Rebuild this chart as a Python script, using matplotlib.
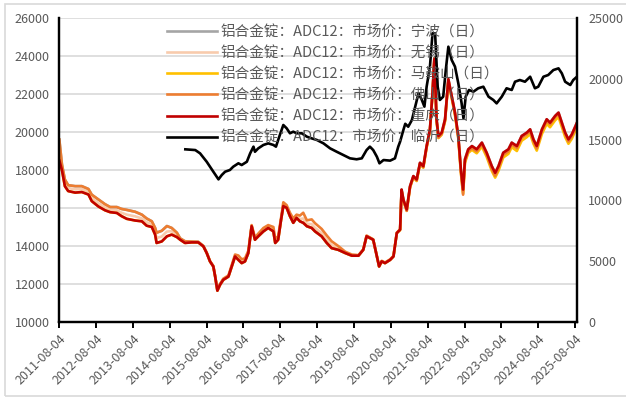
import matplotlib
matplotlib.use("Agg")
from matplotlib import pyplot as plt
from matplotlib.patches import Rectangle

plt.rcParams['font.family'] = ['Noto Sans CJK SC', 'DejaVu Sans']

# dates as decimal years
red_t = [2011.59, 2011.66, 2011.74, 2011.83, 2012.02, 2012.20, 2012.38, 2012.47, 2012.65, 2012.83,
         2012.97, 2013.15, 2013.28, 2013.42, 2013.65, 2013.83, 2013.96, 2014.10, 2014.19, 2014.23,
         2014.37, 2014.51, 2014.64, 2014.78, 2014.87, 2015.00, 2015.18, 2015.36, 2015.50, 2015.59,
         2015.68, 2015.77, 2015.82, 2015.88, 2015.95, 2016.04, 2016.18, 2016.27, 2016.36, 2016.45,
         2016.54, 2016.63, 2016.72, 2016.81, 2016.90, 2016.99, 2017.13, 2017.26, 2017.40, 2017.45,
         2017.53, 2017.61, 2017.67, 2017.76, 2017.85, 2017.94, 2018.03, 2018.12, 2018.21, 2018.31,
         2018.44, 2018.53, 2018.71, 2018.85, 2018.98, 2019.16, 2019.35, 2019.53, 2019.71, 2019.84,
         2019.93, 2020.02, 2020.11, 2020.21, 2020.27, 2020.34, 2020.43, 2020.57, 2020.66, 2020.75,
         2020.84, 2020.88, 2020.93, 2021.02, 2021.11, 2021.20, 2021.29, 2021.38, 2021.47, 2021.56,
         2021.65, 2021.72, 2021.77, 2021.83, 2021.88, 2021.97, 2022.06, 2022.15, 2022.24, 2022.33,
         2022.42, 2022.49, 2022.55, 2022.60, 2022.69, 2022.79, 2022.92, 2023.06, 2023.19, 2023.33,
         2023.42, 2023.51, 2023.64, 2023.78, 2023.87, 2024.01, 2024.14, 2024.28, 2024.37, 2024.46,
         2024.55, 2024.69, 2024.82, 2024.91, 2025.05, 2025.14, 2025.23, 2025.32, 2025.41, 2025.50,
         2025.64]

chongqing = [18500, 18000, 17150, 16890, 16810, 16840, 16710, 16360, 16080, 15880,
             15780, 15740, 15570, 15430, 15340, 15300, 15070, 15000, 14600, 14160,
             14240, 14510, 14600, 14470, 14330, 14160, 14190, 14190, 13980, 13630,
             13190, 12920, 12390, 11650, 11950, 12220, 12390, 12920, 13450, 13270,
             13100, 13190, 13630, 15040, 14330, 14510, 14770, 14950, 14770, 14160,
             14330, 15390, 16100, 16010, 15570, 15220, 15480, 15300, 15220, 15040,
             14950, 14770, 14510, 14160, 13890, 13800, 13630, 13490, 13490, 13800,
             14510, 14420, 14330, 13450, 12920, 13190, 13100, 13270, 13450, 14680,
             14860, 16970, 16440, 15920, 17150, 17680, 17500, 18380, 18200, 19260,
             20140, 22080, 23840, 20670, 19790, 19970, 20670, 22780, 21900, 21020,
             19790, 18030, 16970, 18560, 19090, 19260, 19090, 19440, 18910, 18200,
             17850, 18200, 18910, 19090, 19440, 19260, 19790, 19970, 20140, 19610,
             19260, 20140, 20670, 20490, 20850, 21020, 20490, 19970, 19610, 19870,
             20490]

foshan = [19600, 18300, 17500, 17200, 17150, 17150, 17000, 16700, 16450, 16200,
          16050, 16050, 15950, 15900, 15800, 15650, 15450, 15300, 14950, 14700,
          14800, 15050, 14950, 14700, 14400, 14250, 14230, 14220, 14000, 13650,
          13200, 12950, 12420, 11700, 12000, 12280, 12450, 13000, 13550, 13500,
          13300, 13350, 13750, 15100, 14450, 14650, 14950, 15100, 15000, 14400,
          14500, 15500, 16300, 16150, 15750, 15450, 15650, 15600, 15750, 15350,
          15400, 15200, 14900, 14550, 14250, 14000, 13700, 13550, 13520, 13820,
          14550, 14450, 14350, 13480, 12950, 13220, 13130, 13300, 13480, 14700,
          14880, 16950, 16400, 15850, 17100, 17650, 17450, 18350, 18150, 19200,
          20100, 22050, 23900, 20600, 19700, 19900, 20600, 22750, 21850, 20950,
          19700, 17900, 16700, 18450, 18980, 19150, 18980, 19350, 18800, 18050,
          17700, 18080, 18800, 18980, 19350, 19150, 19700, 19880, 20050, 19500,
          19130, 20050, 20580, 20400, 20780, 20950, 20400, 19880, 19500, 19780,
          20400]

wuxi = [19300, 18150, 17300, 17050, 16980, 17000, 16850, 16520, 16250, 16030,
        15900, 15880, 15750, 15650, 15560, 15450, 15250, 15150, 14780, 14420,
        14500, 14760, 14780, 14580, 14370, 14200, 14200, 14200, 13990, 13640,
        13190, 12920, 12390, 11650, 11950, 12220, 12390, 12920, 13450, 13270,
        13150, 13240, 13680, 15060, 14380, 14570, 14850, 15020, 14850, 14250,
        14400, 15430, 16180, 16060, 15640, 15300, 15540, 15420, 15450, 15170,
        15150, 14950, 14680, 14330, 14050, 13880, 13660, 13500, 13490, 13800,
        14510, 14420, 14330, 13450, 12920, 13190, 13100, 13270, 13450, 14680,
        14860, 16900, 16350, 15850, 17100, 17650, 17480, 18350, 18180, 19230,
        20120, 22060, 23850, 20640, 19760, 19950, 20650, 22760, 21880, 20990,
        19760, 17980, 16900, 18520, 19060, 19230, 19060, 19410, 18880, 18170,
        17820, 18170, 18880, 19060, 19410, 19230, 19760, 19940, 20110, 19580,
        19230, 20110, 20640, 20460, 20820, 20990, 20460, 19940, 19580, 19840,
        20460]

maanshan = [18500, 18000, 17150, 16890, 16810, 16840, 16710, 16360, 16080, 15880,
            15780, 15740, 15570, 15430, 15340, 15300, 15070, 15000, 14600, 14160,
            14240, 14510, 14600, 14470, 14330, 14160, 14190, 14190, 13980, 13630,
            13190, 12920, 12390, 11650, 11950, 12220, 12390, 12920, 13450, 13270,
            13100, 13190, 13630, 15040, 14330, 14510, 14770, 14950, 14770, 14160,
            14330, 15390, 16100, 16010, 15570, 15220, 15480, 15300, 15220, 15040,
            14950, 14770, 14510, 14160, 13890, 13800, 13630, 13490, 13490, 13800,
            14510, 14420, 14330, 13450, 12920, 13190, 13100, 13270, 13450, 14680,
            14830, 16900, 16380, 15860, 17080, 17600, 17420, 18300, 18120, 19180,
            20060, 22000, 23760, 20580, 19680, 19860, 20560, 22660, 21780, 20890,
            19650, 17850, 16750, 18380, 18900, 19060, 18880, 19230, 18690, 17950,
            17600, 17950, 18660, 18850, 19200, 19000, 19540, 19730, 19900, 19380,
            19020, 19900, 20430, 20250, 20620, 20790, 20260, 19740, 19380, 19640,
            20260]

ningbo = [19600, 18300, 17500, 17200, 17150, 17150, 17000, 16700, 16450, 16200,
          16050, 16050, 15950, 15900, 15800, 15650, 15450, 15300, 14950, 14700,
          14800, 15050, 14950, 14700, 14400, 14250, 14230, 14220, 14000, 13650,
          13190, 12920, 12390, 11650, 11950, 12220, 12390, 12920, 13450, 13270,
          13100, 13190, 13630, 15040, 14330, 14510, 14770, 14950, 14770, 14160,
          14330, 15390, 16100, 16010, 15570, 15220, 15480, 15300, 15220, 15040,
          14950, 14770, 14510, 14160, 13890, 13800, 13630, 13490, 13490, 13800,
          14510, 14420, 14330, 13450, 12920, 13190, 13100, 13270, 13450, 14680,
          14860, 16970, 16440, 15920, 17150, 17680, 17500, 18380, 18200, 19260,
          20140, 22080, 23840, 20670, 19790, 19970, 20670, 22780, 21900, 21020,
          19790, 18030, 16970, 18560, 19090, 19260, 19090, 19440, 18910, 18200,
          17850, 18200, 18910, 19090, 19440, 19260, 19790, 19970, 20140, 19610,
          19260, 20140, 20670, 20490, 20850, 21020, 20490, 19970, 19610, 19870,
          20490]

linyi_t = [2015.01, 2015.28, 2015.41, 2015.59, 2015.77, 2015.91, 2016.00, 2016.09, 2016.22, 2016.31,
           2016.45, 2016.54, 2016.68, 2016.77, 2016.86, 2016.90, 2016.99, 2017.13, 2017.26, 2017.40,
           2017.47, 2017.56, 2017.67, 2017.76, 2017.85, 2017.94, 2018.03, 2018.17, 2018.31, 2018.44,
           2018.58, 2018.76, 2018.94, 2019.12, 2019.30, 2019.48, 2019.66, 2019.80, 2019.93, 2020.02,
           2020.11, 2020.21, 2020.28, 2020.39, 2020.57, 2020.70, 2020.79, 2020.84, 2020.93, 2020.98,
           2021.06, 2021.16, 2021.25, 2021.34, 2021.43, 2021.50, 2021.56, 2021.65, 2021.72, 2021.79,
           2021.86, 2021.92, 2022.01, 2022.08, 2022.15, 2022.24, 2022.33, 2022.42, 2022.51, 2022.56,
           2022.62, 2022.71, 2022.83, 2022.96, 2023.10, 2023.24, 2023.37, 2023.46, 2023.60, 2023.73,
           2023.87, 2023.96, 2024.09, 2024.23, 2024.37, 2024.50, 2024.59, 2024.73, 2024.86, 2025.00,
           2025.14, 2025.23, 2025.32, 2025.46, 2025.54, 2025.64]
linyi = [14200, 14140, 13870, 13180, 12360, 11730, 12090, 12360, 12500, 12770,
         13050, 12910, 13180, 13870, 14420, 14000, 14280, 14560, 14690, 14560,
         14420, 15240, 16200, 15930, 15520, 15650, 15520, 15520, 15240, 15100,
         14970, 14690, 14280, 14000, 13730, 13460, 13380, 13460, 14140, 14420,
         14140, 13590, 13050, 13320, 13270, 13460, 14420, 14830, 15800, 16300,
         16060, 16610, 17710, 18810, 18260, 17710, 19350, 21000, 23740, 23740,
         19350, 18260, 18530, 20720, 22640, 21550, 21000, 19630, 17980, 16750,
         18530, 19080, 18940, 19220, 19350, 18530, 18260, 17980, 18530, 19220,
         19080, 19760, 19900, 19760, 20170, 19220, 19350, 20170, 20310, 20720,
         20860, 20450, 19760, 19490, 19900, 20170]

labels = ['铝合金锭：ADC12：市场价：宁波（日）', '铝合金锭：ADC12：市场价：无锡（日）',
          '铝合金锭：ADC12：市场价：马鞍山（日）', '铝合金锭：ADC12：市场价：佛山（日）',
          '铝合金锭：ADC12：市场价：重庆（日）', '铝合金锭：ADC12：市场价：临沂（日）']

fig = plt.figure(figsize=(6.26, 3.98), dpi=100)
fig.patches.append(Rectangle((5 / 626, 2 / 398), 1.0, 392 / 398, transform=fig.transFigure,
                             fill=False, edgecolor='#D9D9D9', linewidth=1.2))
ax = fig.add_axes([59.3 / 626, 76 / 398, 518 / 626, 304 / 398])
ax2 = ax.twinx()

lw = 1.9
h1, = ax.plot(red_t, ningbo, color='#A5A5A5', lw=lw)
h2, = ax.plot(red_t, wuxi, color='#F8CBAD', lw=lw)
h3, = ax.plot(red_t, maanshan, color='#FFC000', lw=lw)
h4, = ax.plot(red_t, foshan, color='#ED7D31', lw=lw)
h5, = ax.plot(red_t, chongqing, color='#C00000', lw=lw)
h6, = ax2.plot(linyi_t, linyi, color='black', lw=lw)

ax.set_xlim(2011.589, 2025.65)
ax.set_ylim(10000, 26000)
ax.set_yticks(range(10000, 26001, 2000))
ax2.set_ylim(0, 25000)
ax2.set_yticks(range(0, 25001, 5000))

years = list(range(2011, 2026))
ax.set_xticks([y + 215 / 365 for y in years])
ax.set_xticklabels([f'{y}-08-04' for y in years], rotation=45, ha='right',
                   rotation_mode='anchor')

ax.grid(axis='y', color='#D9D9D9', lw=1.2)
ax.set_axisbelow(True)
for a in (ax, ax2):
    a.spines['top'].set_visible(False)
    for s in ('left', 'right', 'bottom'):
        a.spines[s].set_linewidth(1.6)
        a.spines[s].set_color('black')
ax.tick_params(axis='y', length=0, pad=7, labelsize=9, labelcolor='#595959')
ax2.tick_params(axis='y', length=0, pad=8, labelsize=9, labelcolor='#595959')
ax.tick_params(axis='x', length=4, width=1.4, pad=3, labelsize=9, labelcolor='#595959')

leg = ax2.legend([h1, h2, h3, h4, h5, h6], labels, loc='upper left',
                 bbox_to_anchor=(0.208, 0.977), frameon=False, fontsize=10.5,
                 handlelength=3.4, handletextpad=0.25, labelspacing=0.48,
                 borderpad=0, borderaxespad=0)
for t in leg.get_texts():
    t.set_color('#595959')
leg.set_zorder(10)

plt.savefig('out.png', dpi=100)
plt.close()
